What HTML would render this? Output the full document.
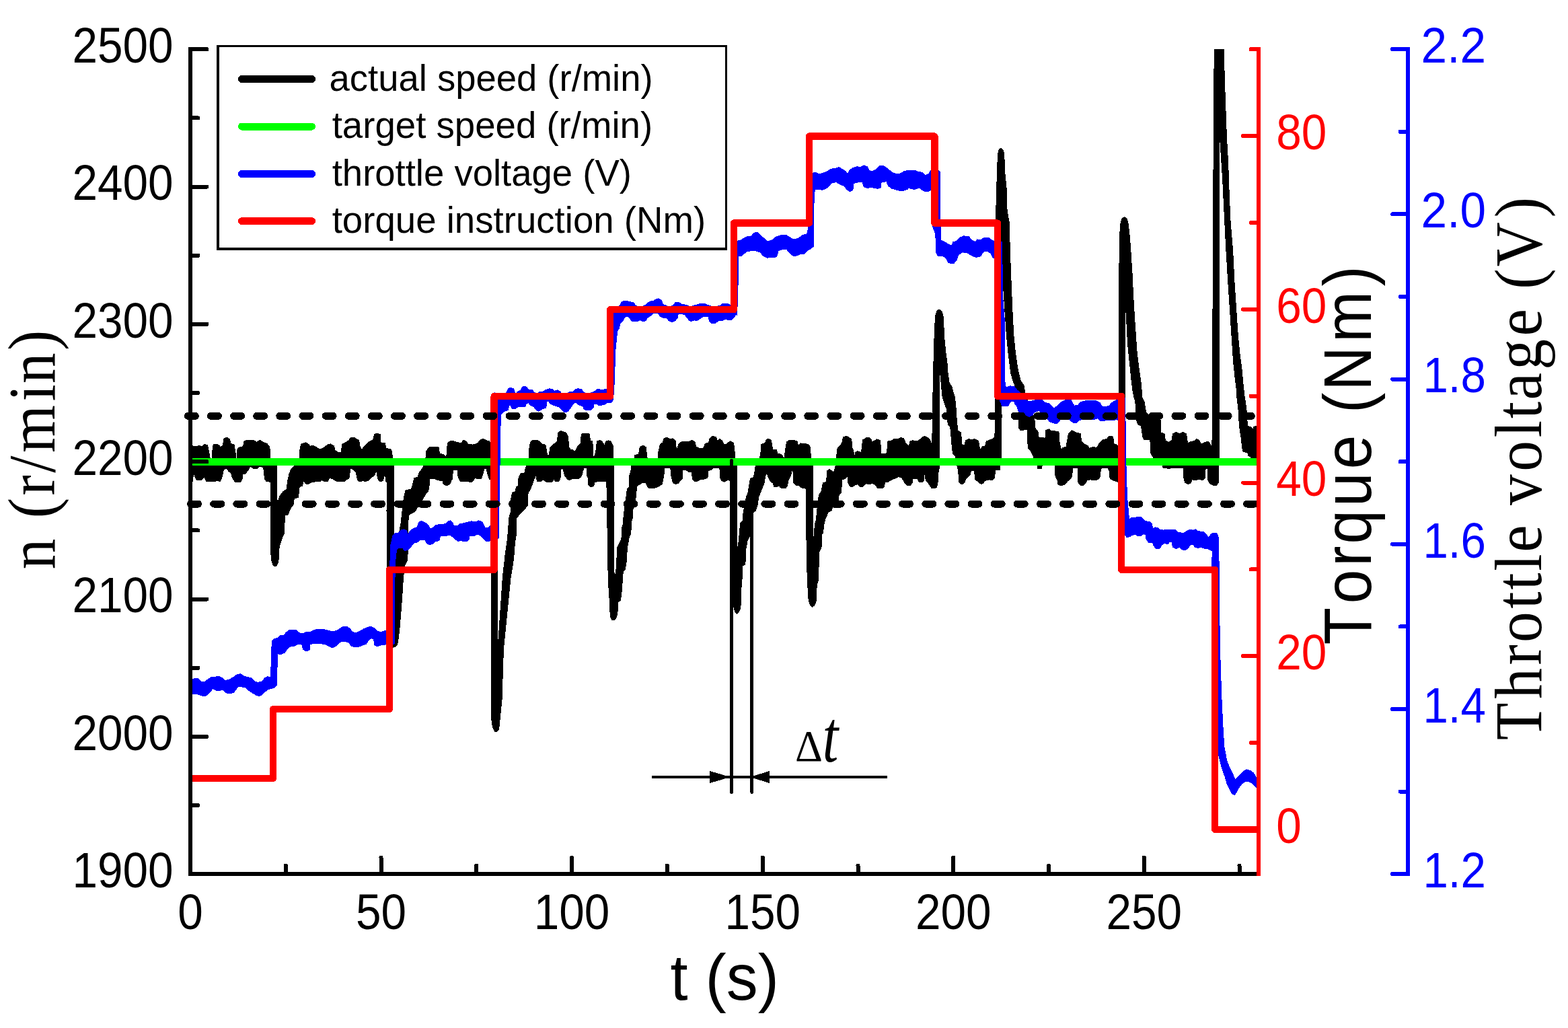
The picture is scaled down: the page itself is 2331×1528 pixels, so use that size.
<!DOCTYPE html>
<html lang="en">
<head>
<meta charset="utf-8">
<title>Engine speed control under torque steps</title>
<style>
html,body{margin:0;padding:0;background:#fff;}
body{width:2331px;height:1528px;overflow:hidden;}
svg{display:block;}
text{font-kerning:none;fill:#000;}
.k{font-family:"Liberation Sans",Arial,sans-serif;}
.s{font-family:"Liberation Serif","Times New Roman",serif;}
.i{font-style:italic;}
.r{fill:#f00;}
.b{fill:#00f;}
</style>
</head>
<body>
<svg width="2331" height="1528" viewBox="0 0 2331 1528" shape-rendering="crispEdges">
<rect width="2331" height="1528" fill="#fff"/>
<defs><clipPath id="plot"><rect x="283" y="73" width="1588" height="1226"/></clipPath></defs>
<g clip-path="url(#plot)" fill="none" stroke-linejoin="round" stroke-linecap="round">
<path id="speed" d="M280 686.3L286 662.9L292.3 663.8L295.7 662.1L300 663.8L304.3 660.4L308.6 662.1L311.2 675.8L312.9 686.1L315.5 686.1L316.3 663.8L318 660.7L324.9 661.2L327.5 664.6L331.8 662.1L332.6 652.6L336.9 650.1L341.2 652.6L342.9 659.5L348.1 661.2L350.3 675.8L351 686.1L352.4 686.1L353.2 666.4L357.5 664.6L361.8 663.8L362.7 656.1L366.1 654.4L376.4 654.4L381.5 657.3L386.7 654.4L391.8 657.8L397 659.5L400.8 664.6L401.8 686.1L411.8 686.3L411.8 742L412.4 747.9L415.9 737.6L421 730.7L426.2 727.3L427.9 713.6L430.4 703.3L433 697.3L437.3 693L441.6 686.1L445 686.1L445.9 668.9L447.6 660.4L454.5 657.8L458.8 660.4L460.5 663.8L464.8 662.1L469.9 664.6L475.1 668.1L477.6 667.2L482.8 664.6L487.1 661.2L491.4 660L496.5 662.9L498.2 669.8L503.4 672.7L507.7 672.4L508.5 660.4L513.7 657.8L518.8 654.4L521.4 650.9L525.7 650.1L533.4 654.4L535.1 663.8L537.7 668.9L541.1 663.8L544.6 660.4L549.7 656.1L554.9 653.5L556.6 645.8L560 644.1L565.2 645.8L566 658.6L572 658.6L574.1 666.4L580.6 668.1L582.7 670.7L583.3 686.1L584.9 686.3L584.9 842L586.5 835L590 810L596 778.8L600.3 741L602.9 729L611.5 727.3L613.2 721.3L615.8 711L620.9 709.3L623.5 702.4L628.6 695.5L632.1 686.1L632.9 686.1L633.4 670.7L638.9 664.6L651.8 664.6L653.5 674.1L659.5 675.8L663.8 680.1L665.5 658.6L670 655.2L675.1 656.1L680.3 657.8L685.4 658.6L688.9 654.9L692.3 655.2L695.7 660L702.6 661.2L706.9 660.4L711.2 657.8L714.6 653.5L718.9 652.6L723.2 654.9L727.5 656.1L729.2 658.6L734.4 662.1L734.9 686.1L739.8 686.3L739.8 950L741 955L742.3 934.4L744.9 895.8L747.5 857.2L750.5 831.5L751.5 821.7L754.1 804.5L755.8 787.3L756.7 770.2L759.2 761.6L759.2 744.4L761.8 732.4L766.1 730.7L767.8 723.8L770.4 722.1L771.2 710.1L773.8 704.1L779.8 703.3L781.5 695.5L785 686.1L786.3 686.1L786.7 668.9L788.4 658.6L790.1 655.2L798.7 654.4L802.1 656.1L805.6 660.4L810.7 661.2L812.4 668.9L813.3 676.7L816.7 676.7L817.6 665.5L820.2 662.9L824.4 659.5L828.7 655.2L829.6 643.2L833.9 640.6L841.6 643.2L844.2 648.3L845.9 665.5L848.5 668.6L851.9 668.9L854.5 671.5L857.9 665.5L858.8 663.4L863.1 659.5L864.4 645.8L867.3 644.1L875.9 644.9L877.6 655.2L880.7 656.1L881.9 678.4L884.5 677.5L886.2 668.1L887.6 656.1L891.4 654.4L894.8 656.1L897.4 660.4L899.1 662.1L900.8 656.1L904.2 654.9L907.7 656.1L911.1 662.1L912 686.1L912.3 686.3L912.3 850L915 854.6L916.3 844.3L918 813.1L924 801.1L924.8 783.9L926.5 778.8L927.4 765L930.8 741L932.5 727.3L935.1 723.8L936 706.7L938.6 697.3L939.4 686.1L942.8 686.1L943.7 676.7L949.7 674.9L951.4 664.6L955.7 662.1L960 664.6L961.7 679.2L963.4 686.1L978 686.1L978.9 672.4L981.5 660.4L985.7 657.8L986.6 652.6L990.9 650.4L996 652.6L999.5 652.1L1003.8 654.4L1005.5 669.8L1007.2 665.5L1008.9 660.4L1014.1 656.1L1023.5 656.6L1028.6 654.4L1032.9 656.9L1034.7 663.8L1040.7 666.9L1045.8 666.4L1048.4 659.5L1053.5 658.3L1055.2 651.8L1059.5 648.3L1064.7 650.1L1065.5 654.4L1070 653.8L1070 652.6L1073.4 654.9L1076 660.4L1078.6 661.2L1082.9 657.8L1085.4 656.1L1089.7 657.8L1091.5 663.8L1092.3 678.4L1094 686.1L1095.8 686.3L1095.8 812L1097.3 815L1097.5 813.1L1098.3 804.5L1100.9 777L1104.3 773.6L1105.2 761.6L1109.5 739.3L1112 732.4L1113.8 722.1L1115.5 711.8L1120.6 709.3L1122.3 699.8L1124.1 686.1L1128.3 686.1L1130.9 674.9L1132.1 660.4L1137.8 658.6L1138.6 654.4L1142.1 652.1L1146.4 654.4L1147.2 660L1148.9 668.9L1154.1 668.9L1155.8 674.1L1161.8 675.5L1164 679.2L1166.1 680.9L1167.5 670.7L1169.5 656.9L1173 654.9L1181.5 654.9L1185.3 656.1L1186.3 662.9L1190.1 659L1196.1 659.5L1200.4 660.4L1203.8 662.9L1205.2 677.5L1206.9 686.1L1208.2 686.3L1208.2 798L1209.5 802L1209.9 799.4L1211.6 778.8L1213.3 773.6L1216.7 741L1217.6 735.9L1221 730.7L1223.6 717.8L1228.7 716.1L1229.9 699.8L1233 697.3L1239 702.4L1241.6 696.4L1243.3 686.1L1243.7 680.1L1244.7 667.2L1248.5 662.9L1251.9 658.6L1253.6 650.1L1257.9 648.3L1262.2 650.4L1265.6 652.6L1267 667.2L1268.7 668.9L1269.4 679.2L1270.8 679.2L1271.6 672.4L1275.1 670.7L1279.4 672.4L1280.7 674.9L1281.4 663.8L1282.8 653.8L1287.9 650.9L1291.4 650.4L1294.8 652.6L1295.7 656.9L1299.9 655.2L1303.4 653.1L1308.5 654.4L1309.7 674.9L1317.1 674.9L1318.8 672.4L1319.7 656.1L1325.7 654.9L1329.1 652.6L1335.1 653.1L1339.4 650.4L1343.7 652.1L1346.3 658.6L1351.4 663.8L1352.8 656.1L1356.6 654.9L1361.7 656.1L1365.2 655.2L1370.3 651.4L1373.7 648.3L1378.9 650.4L1382.7 653.5L1384.4 666.9L1385.7 650.1L1386.4 640L1387.1 583L1388.4 524.6L1389.7 486L1391 468L1393 462L1396.1 460.3L1399.5 462.5L1401.8 468L1402.6 480.9L1403.8 504L1405.9 524.6L1407.7 537.5L1409 555.5L1411 568.4L1415.4 576.1L1416.7 583L1419.2 590L1420.9 605.4L1422.1 624.3L1423.8 639.8L1428.6 643.2L1429.5 660.4L1433.8 662.1L1435.5 655.2L1439.8 652.6L1444.1 653.8L1449.2 652.6L1454.4 655.2L1456.1 665.5L1457.8 668.9L1460.4 663.8L1464.7 662.9L1466.4 656.1L1470 655.2L1470 654.4L1475.1 652.6L1478.6 650.1L1479.5 640L1480.3 400L1481.1 305.8L1482.4 259.5L1483.6 228.6L1485.5 222L1488.3 220.4L1491 223L1492.7 228.6L1493.4 254.4L1496 280.1L1497 313.6L1500.4 331.6L1501.1 370.2L1502.9 416.5L1504.7 460.3L1506.8 498.9L1509.4 524.6L1513.2 550.4L1517.1 565.8L1522.3 573.5L1523.5 585L1530 602L1537.8 622.6L1538.6 636.3L1542.9 641.5L1543.8 650L1554 651.4L1555 639.8L1559.2 638L1562.7 640.6L1568.7 641.1L1573.8 641.5L1575 658.6L1578.1 670.7L1579.8 665.5L1585 664.6L1586.7 655.2L1588.4 644.9L1593.6 640.1L1600.4 643.2L1606.4 644.9L1607.3 655.2L1612.4 660.4L1617.6 662.9L1618.9 666.4L1624.4 664.6L1630.4 665.5L1634.7 658.6L1639.9 653.8L1645.9 652.6L1648.5 648.3L1654.5 649.2L1656.2 660.4L1660.5 661.2L1662.2 663.8L1663 640L1663.4 583L1664.2 370L1665.5 334L1668 325L1671.5 322.6L1674.8 325L1676.7 330.3L1679.3 352.2L1680.6 370.2L1683.1 408.8L1684.4 437.1L1686.5 473.1L1688.3 498.9L1690.1 524.6L1693.4 550.4L1696 568.4L1697.3 583L1697.4 590L1700.8 596.9L1703.4 612.3L1712 621L1725.7 625L1725.7 643.2L1730.8 644.9L1732.5 655.2L1737.7 657.3L1742 654.4L1743.7 644.9L1748.9 642.3L1753.1 645.3L1758.3 642.3L1763.4 644.6L1765.5 658.6L1769.4 656.9L1775.4 655.6L1778.9 652.6L1783.2 655.2L1784.9 660.4L1790.9 657.8L1795.2 656.1L1798.6 658.6L1799.5 662.9L1802 662.9L1802.3 640L1802.6 583L1803.8 300L1805.4 60L1818.5 60L1821 140L1823.4 205.4L1825.5 241.5L1827.3 293L1829.1 331.6L1832.4 370.2L1835 421.7L1837.6 460.3L1840.2 498.9L1842.7 524.6L1846.1 550.4L1847.9 571L1849.2 583L1850.1 590L1852.7 607.2L1854.4 632.9L1860.4 635.5L1863 638L1863.8 634.3L1868 633.8L1876 634L1876 686.3L1863 686.1L1859.5 679.2L1856.1 677.5L1855.2 673.2L1847.5 670.7L1844.9 648.3L1842.4 632.9L1841.5 612.3L1838.9 590L1838.9 583L1836.3 563.2L1833.7 537.5L1831.1 498.9L1828.6 460.3L1826 421.7L1822.9 370.2L1820.3 318.7L1817.8 267.2L1815.2 228.6L1813.7 205.4L1812.7 210L1812.6 686.3L1811.5 686.1L1811.1 717L1808.9 721.3L1803.8 721.3L1798.6 718.4L1796 713.6L1795.2 696.4L1791.8 697.3L1790.9 711L1787.5 713.6L1782.3 712.2L1777.2 713.6L1772 712.7L1770.3 717.8L1766 719.6L1761.7 717L1760 710.1L1759.1 695L1757.4 695.5L1751.4 695L1742.8 695L1737.7 696.4L1729.1 695L1726.5 686.1L1718.8 686.1L1713.7 678.4L1711.1 674.1L1709.9 653.8L1700.8 653.5L1699.1 650.1L1696.5 632.9L1691.4 630.3L1689.6 624.3L1687.9 596.9L1685.9 590L1684.4 583L1681.9 563.2L1679.3 537.5L1676.7 511.7L1674.6 473.1L1673.6 457.7L1672.8 462L1672.7 686.3L1672.1 686.1L1667.3 716.1L1662.2 716.1L1658.8 715.3L1653.6 713.2L1650.2 711L1649.3 699.8L1646.7 695L1643.3 695.5L1637.3 695.5L1636.1 699.8L1634.7 710.1L1630.4 713.6L1625.3 713.6L1621 712.7L1615.9 713.6L1614.1 717.8L1609.9 721.3L1605.6 720.8L1603 717L1602.1 695.5L1594.4 695.5L1593.6 708.4L1590.1 712.7L1586.7 715.3L1583.3 719.6L1577.3 721.8L1573 719.6L1572.1 713.6L1569.2 708.4L1567.8 686.1L1550.7 686.1L1548.1 696.7L1542.9 696.4L1541.2 686.1L1538 686.3L1536.9 679.2L1532.6 670.7L1528.3 665.5L1527.5 638L1517.2 639.8L1515 636.3L1515 590L1513.2 583L1506.8 568.4L1503 555.5L1499.1 524.6L1496.5 498.9L1493.9 460.3L1491.4 421.7L1488.8 383L1488.3 383L1488.2 686.3L1487.2 686.1L1486.3 698.1L1479.4 698.1L1478.6 710.1L1475.1 713.6L1470 712.7L1470 713.2L1463.8 714.4L1462.1 717.8L1458.7 719.6L1454.4 716.1L1450.1 712.7L1448.4 699L1443.2 699.8L1442.4 705L1438.9 708.4L1435.5 711.8L1434.7 715.3L1432.1 719L1428.6 719.6L1425.6 716.1L1424.9 699.8L1423.5 694.7L1420.9 686.1L1420.1 677.5L1416.6 674.1L1414.9 658.6L1412.9 635L1409.4 631.2L1407.2 607.2L1403.8 598.6L1401.2 590L1399.5 572L1397.4 550.4L1396.2 556L1396.2 686.3L1396 696.4L1394.8 702.4L1394 717L1392.6 723.8L1389.2 725.9L1384.9 725.2L1381.5 720.4L1378.9 716.1L1376.3 714.4L1375.4 699.8L1374.1 699L1373.7 713.6L1372 716.1L1366 716.1L1364.3 712.2L1361.7 711L1356.9 711.5L1356.2 717.8L1353.1 721.3L1349.7 721.8L1345.4 718.4L1342.8 713.2L1339.4 709.3L1335.1 708.7L1330.8 711L1325.7 712.7L1320.5 716.1L1315.4 717L1314.5 723L1312 725.6L1304.2 725.2L1301.7 720.8L1297.4 718.4L1291.4 719.6L1287.9 718.4L1282.8 723L1278.5 723.5L1275.1 719.6L1271.6 720.4L1267.3 723.5L1263.9 723L1260.5 717L1259.6 697.3L1258.8 708.4L1256.2 711.5L1251.9 712.7L1250.2 732.4L1246.7 736.7L1245.9 744.4L1237.3 753.9L1236.1 759L1231.3 760.7L1229.6 765L1227 770.2L1224.4 780.5L1223.6 791.6L1221.9 794.2L1221 813.1L1217.9 819.9L1216.7 847.4L1216.6 861.9L1214.1 868.8L1213.2 892.8L1211.5 897.9L1210 900.5L1207.2 902.2L1203.8 897.9L1202 889.4L1200.8 868.8L1199.5 834.4L1198.6 760L1198.7 729L1197.8 725.6L1193.6 725.9L1190.1 723.8L1188.4 721.3L1183.3 721.3L1179.8 717L1179 699.8L1177.3 696.4L1176.4 704.1L1174.7 708.4L1172.1 712.7L1170.4 722.1L1167.8 725.6L1163.5 725.9L1160.1 724.7L1158.4 721.3L1154.9 723.8L1150.7 723L1148.9 717.8L1145.5 715.3L1142.1 709.3L1140.4 703.3L1137.8 706.7L1136.1 717L1134.4 722.1L1130.9 730.7L1128 737.6L1125.8 751.3L1123.2 759L1119.8 761.6L1115.5 780.5L1115 795.9L1111.2 802.8L1108.6 816.5L1107.8 838.8L1103.7 841.3L1103 860.2L1101.7 875.6L1100.8 903L1098.5 909.5L1095.5 912L1092.5 909L1090.5 900L1089 885L1087.3 850L1085.8 760L1085.1 715.3L1083.7 712.7L1081.2 713.6L1076.9 716.1L1072.6 714.4L1070.9 710.1L1070 695.5L1070 695.5L1060.4 695.5L1057.8 698.1L1052.7 699.8L1051.8 710.1L1047.5 711.8L1041.5 712.7L1037.2 714.9L1032.9 715.6L1029.5 712.7L1028.6 701.2L1024.4 701.5L1020.9 699L1014.9 698.1L1014.1 711.8L1011.5 714.4L1008.1 718.4L1003.8 719.6L1000.3 717L998.1 708.4L996.9 695.5L987.8 695.5L986.6 708.4L984 719.6L978.9 723L974.6 724.7L968.6 725.9L963.4 724.7L960 717.8L955.7 717L951.4 719.6L947.1 722.1L945.4 733.3L944.6 743.6L941.1 753L940.3 770.2L938.6 775.3L937.7 792.5L935.1 799.4L932.5 813.1L930.8 837.1L929.2 846.5L926.3 849.9L925.3 858.5L924.6 873.9L922.3 892.8L918.9 894.5L918 908.2L916.7 916.8L914.5 920.5L912 922L909.5 921L907.4 916.8L906 886L904.3 862L903.5 800L902.5 760L902 713.6L899.9 715.6L893.1 714.9L891.4 715.6L884.2 716.1L882.8 721.8L878.5 723.8L875.1 721.3L874.2 710.1L872.8 706.7L872.5 695.5L867.3 695.5L866.5 701.5L863.9 708.4L860.5 711.5L850.2 711.5L846.7 713.6L843.3 711.8L839.9 707.5L838.2 701.5L836.5 695.5L833.9 697.3L833 710.1L831.3 714.9L825.3 715.3L823.6 712.2L820.2 716.6L812.4 716.1L807.3 712.7L803.8 715.3L798.7 715.3L797.3 710.1L796.1 696.4L795.3 710.1L793.6 712.7L791 720.4L788.4 727.3L785 732.4L784.1 751.3L780.7 755.6L777.3 759L773 763.3L767.8 770.2L767 795.9L765.2 807.9L763.5 830.2L760.9 847.4L759.1 857.2L756.5 883L753.9 908.7L751.4 934.4L748.8 960.2L747.5 986L746.2 1037.4L743.6 1063L741.5 1084L738.5 1087.6L735.5 1087L732.5 1081L731 1070L730.7 760L730.1 713.6L729.2 712.2L727.5 712.2L724.9 704.1L723.2 696.4L719.8 696.4L718 703.3L715.5 711L710.3 711.5L706 710.1L704.3 713.6L700.9 716.6L695.7 715.6L684.6 715.3L681.2 709.3L680.3 698.1L673.1 699L672.6 711.8L670 714.4L670 717L668.1 719.6L663.8 721.8L659.5 719.6L657.8 714.4L650.1 713.6L645.8 711L638.9 711.8L638.1 720.4L636.4 730.7L632.9 734.1L626.9 744.4L620.1 754.7L616.6 760.7L608.1 765L607.2 770.2L606 780L605.9 831.5L602 839.2L599.5 857.2L598.2 877.8L596.4 903.5L593.8 934.4L591.7 952L590.5 958L587.9 961L584.5 962.2L581 960.5L577 954L575.3 940L575.1 760L575.4 717L573.7 715.3L572.9 706.7L571.2 706.7L569.4 714.4L565.2 715.6L561.7 711.8L560 701.2L558.3 701.5L556.6 706.7L551.4 710.1L547.1 714.4L542.8 715.6L540.3 714.4L534.3 715.6L531.7 713.6L529.1 701.5L524 697.3L520.9 696.4L518.8 711L514.5 713.2L512 715.6L500.8 715.6L494.8 711.8L489.6 710.1L487.1 715.3L482.8 715.6L478.5 713.6L475.9 715.6L463.9 716.1L457.9 719.6L453.6 718.7L451.9 712.7L449.3 722.1L445 723.8L443.3 739.3L437.3 741L435.6 751.3L432.2 754.7L427.9 765L423.6 765L421.9 794.2L419.3 799.4L415 813.1L414.1 831.5L412.5 838.5L409.8 841.8L406.5 840.5L404 834L402.6 820L402.3 760L402.1 716.1L396.1 715.6L393.6 711.8L391.8 694.7L385.8 693L381.5 696.7L377.3 696.7L372.1 693L369.5 698.1L364.4 704.1L360.9 705L360.1 711.8L357.5 716.6L349.8 716.6L345.5 710.1L343.8 703.3L340.4 700.7L336.9 696.7L332.6 697.3L330.1 708.4L327.5 715.3L321.5 714.4L318.9 715.6L306.9 715.3L303.5 708.4L299.2 713.6L292.3 713.6L289.7 708.4L288 702.4L286 715.3Z" fill="#000" stroke="#000" stroke-width="1.2"/>
<path id="target" d="M283 686.3H1871" stroke="#0f0" stroke-width="11" stroke-linecap="butt"/>
<path id="throttle" d="M281 1010L286 1010.4L289.3 1008.6L294.5 1009.1L298.3 1012.9L303.5 1014.2L308.6 1010.4L313.8 1007L318.9 1006.5L325.3 1005.2L330.5 1007.8L334.4 1011.7L340.8 1010.4L347.2 1006.5L352.4 1002.7L357.5 1001.9L362.7 1005.2L367.8 1006.5L373 1007.8L378.1 1012.9L383.3 1014.7L389.7 1012.9L393.6 1007.8L397.4 1006L402.6 1006.5L403.3 985.9L404.4 952.5L407.7 949.4L412.9 948.6L416.7 944.7L421.9 944.2L425.7 940.1L429.6 936.5L434.7 936.2L439.9 936.5L445 940.9L450.2 942.2L455.3 939.6L461.8 939.1L466.9 936.5L473.3 935.2L481.1 935.7L488.8 937.5L493.9 939.1L500.4 937.5L505.5 934.4L509.4 931.9L515.8 931.4L520.2 934.4L523.5 939.6L528.7 940.9L535.1 938.3L540.3 935.2L546.7 932.4L551.9 931.4L557 934.4L560.9 938.3L566 939.6L571.2 938.3L575 936.5L579 930L579.5 850L581 810L584 795.9L587.5 792.5L592.6 792.1L596 788.2L600.3 787L604.6 789.1L606.3 794.2L611.5 787.3L614.9 785.6L620.1 783.9L622.6 776.2L626.9 774.5L632.1 777L637.2 781.3L638.9 785.6L644.1 784.8L647.5 780.5L656.1 779.6L663 778.8L666.4 774.5L670 774L670 775.3L672.6 776.2L674.3 781.3L680.3 782.2L683.7 778.8L688.9 777.9L695.7 776.2L700 775L704.3 775.3L706.9 776.2L711.2 774L714.6 774.5L717.2 777L719.8 782.2L721.5 784.8L725.8 784.8L729.2 781.3L733 775L733.5 600L735 584L751.5 586.5L753.2 583L755.8 577.5L759.2 576.5L763.5 577.9L765.2 583L766.9 585.6L768.6 583L773.8 580.4L776.4 575.3L779.8 574.1L783.2 575.8L785.8 579.2L790.9 579.6L794 583L797.8 585.6L801.2 583L807.3 582.2L811.5 579.6L816.7 577.9L821 578.7L824.4 581.3L828.7 579.9L832.1 581.6L833.8 583.9L839.9 586.1L845.9 583L851.9 582.2L855.3 578.7L859.6 577.9L864.7 578.7L867.3 583L874.2 586.1L881 583L886.2 580.4L888.8 578.2L893.9 579.6L900.8 578.7L902.5 579.6L906 575L906.5 470L908 456L917.9 456.9L921.4 454.3L924.8 448.3L929.9 447.1L935.1 448.3L942 450L945 454.3L951.4 456.9L958.3 454.3L961.7 451.7L966 448.3L971.1 447.5L974.6 445.4L978.9 444L983.1 446.1L985.7 452.6L990 454.3L995.2 456.4L1001.2 453.5L1003.7 450L1008.9 449.2L1014 452.6L1020.9 453.5L1026 456.4L1031.2 454.3L1034.6 453.5L1039.8 451.7L1046.6 451.2L1051.8 453.5L1060.4 456.4L1071.5 454.3L1074.1 451.7L1079.2 451.2L1084.4 452.6L1086.1 453.5L1089 448L1089.5 370L1091 357L1095.2 358.6L1101.7 356.8L1109.4 352.2L1117.1 350.9L1121 346.5L1126.1 345.2L1131.3 350.9L1136.4 354.7L1140.3 358.6L1146.7 357.8L1153.1 352.7L1159.6 350.1L1168.6 349.6L1173.7 352.7L1178.9 356L1186.6 354.7L1193 349.6L1199.5 348.3L1201.5 340L1202 270L1204 258L1207.2 257.4L1212.3 256.4L1217.5 259L1223.9 257.4L1230.4 254.4L1235.5 251.3L1241.9 250.5L1247.1 248.7L1252.2 251.8L1257.4 254.9L1260 259.5L1262.5 253.8L1267.7 249.7L1274.1 247.9L1279.3 248.7L1284.4 246.1L1289.6 247.9L1292.1 253.8L1297.3 254.9L1302.4 251.8L1307.6 247.1L1312.7 246.1L1317.9 249.7L1323 253.8L1328.2 257.4L1333.3 259L1338.5 258.2L1343.6 254.9L1351.3 253.1L1359.1 253.1L1365.5 255.6L1370.6 256.4L1375.8 260.8L1380.9 258.2L1384.8 251.8L1392.5 250L1397.3 256L1397.8 330L1398.7 357.3L1403.8 359.4L1410.3 363.7L1415.4 365L1416.7 359.9L1421.9 358.6L1427 353.4L1432.2 350.9L1439.9 351.6L1445 357.3L1450.2 359.9L1452.8 356L1457.9 356.8L1463.1 353.4L1469.5 353.4L1474.6 357.3L1478.5 358.6L1489.5 360L1490.5 440L1493.5 480L1493.5 565.8L1495.2 576.1L1501.2 574L1508 574.4L1511.5 579.5L1516.6 583.8L1518.3 589.8L1528.6 596.7L1533.8 596.3L1542.4 594.1L1549.2 595L1553.5 598.4L1559.5 600.1L1563 603.6L1567.3 607L1571.5 603.6L1576.7 598.4L1583.6 594.6L1592.1 594.1L1594.7 600.1L1597.3 603.2L1602.4 602.7L1605.9 598.4L1611 596.3L1619.6 595.3L1628.2 595.3L1635 598.4L1637.6 603.6L1641.9 604.9L1648.8 603.6L1652.2 599.3L1657.3 595.8L1661.6 594.1L1672.5 592L1673.3 658.6L1674.2 710.1L1675.9 744.4L1677.6 761.6L1678.5 773.6L1681.9 769.3L1688.8 769.3L1691.4 768.1L1696.5 768.5L1699.9 771.9L1702.5 775L1709.4 775.3L1712 778.8L1713.7 785.6L1717.1 783.9L1721.4 784.8L1724 787.3L1729.1 788.2L1736 787.3L1742.8 787.7L1747.1 787.3L1751.4 791.6L1760 792.5L1765.2 789.1L1768.6 787.3L1773.7 788.2L1777.2 787L1780.6 789.9L1789.2 790.4L1794.3 795.9L1796.9 799.4L1800.3 794.2L1803.8 792.5L1808.9 792.8L1811.5 799.4L1812 841.8L1812.5 908.7L1814 985.9L1815.8 1037.4L1817.6 1076L1819.7 1109.5L1823.5 1130L1827.4 1140.4L1832.5 1150.6L1836 1159L1839.5 1156L1843.5 1151.5L1848.5 1146.5L1853.5 1144L1858.5 1145.5L1863.5 1149L1870 1160L1876 1163L1876 1176L1870 1173L1861 1164L1856 1161.5L1851 1161.5L1846 1165L1841 1171.5L1838 1178L1835 1181.5L1832 1180L1828.5 1174L1824.5 1166L1821 1154L1817 1143L1813.5 1129L1811.5 1122L1802 1120L1802 830L1802.9 817.9L1800.3 817.9L1796 815.7L1789.2 814.8L1785.7 813.1L1780.6 814.5L1776.3 813.1L1774.6 809.3L1769.4 809.6L1766 814.8L1761.7 817.9L1756.6 816.5L1753.1 813.1L1748 815.7L1743.7 813.1L1742 805.9L1738.6 805.4L1736 808.8L1730.8 807.1L1726.5 810.5L1724 815.1L1718.8 815.7L1715.4 811.4L1713.7 806.6L1707.7 806.2L1704.2 801.1L1703.4 795.1L1700.8 793.3L1696.5 795.9L1691.4 796.8L1687.9 794.2L1683.6 795.1L1679.4 797.6L1675.1 798.5L1672.5 795.1L1663.5 780L1663 628L1661.6 623.3L1653.9 624.5L1647 624.1L1640.2 625.5L1635 625L1631.6 621.6L1624.7 623.8L1614.4 623.3L1609.3 623.8L1604.1 624.1L1600.7 627.9L1596.4 628.4L1592.1 625.9L1587.8 620.7L1583.6 617.3L1578.4 620.7L1574.6 625.9L1571.5 629.3L1566.4 628.9L1560.4 626.7L1552.7 617.3L1547.5 613L1544.1 610.4L1537.2 613L1534.6 617.3L1530.4 619.3L1526.1 617.3L1521.8 613.8L1516.6 613L1514.1 610.4L1511.5 603.6L1508.9 600.1L1507.2 596.3L1502.9 596.7L1500.3 600.1L1498.6 603.9L1490 603.6L1484.5 590L1484 390L1478.5 384.3L1475.9 382.5L1473.3 376.6L1468.2 373.3L1461.8 374L1457.9 380.5L1451.5 382.5L1445 380L1437.3 375.3L1430.9 374.8L1424.4 379.2L1421.9 386.9L1418 391.3L1410.3 390.8L1407.7 385.6L1403.8 381L1394.8 380.5L1391.5 375.3L1391 348L1386 335L1386 285L1384.3 281.4L1380.9 284L1374.5 284L1369.4 281.4L1366.8 278.8L1359.1 281.4L1353.9 280.1L1351.3 278.8L1348.8 281.4L1341 284L1333.3 282.1L1325.6 280.1L1320.5 276.2L1317.9 269.8L1310.2 270.3L1308.9 278.8L1305 280.1L1299.9 279.6L1294.7 278L1289.6 279.6L1284.4 277.5L1281.8 269.8L1274.1 271.1L1269 272.4L1267.7 282.7L1263.8 284.7L1258.7 281.4L1254.8 276.2L1248.4 273.7L1243.2 270.3L1235.5 272.4L1230.4 278.8L1222.6 282.1L1216.2 281.4L1209.8 281.4L1211.5 281.5L1210 290L1209.5 366L1204.6 370.2L1200.8 371.5L1195.6 377.4L1189.2 377.9L1184 380L1178.9 380L1173.7 375.8L1169.9 370.7L1163.4 370.2L1157 372.8L1154.4 381.8L1146.7 382.5L1140.3 383.1L1135.1 380.5L1130 374.8L1123.5 372.8L1115.8 372.8L1109.4 374L1102.9 380L1097.8 380.5L1097 382L1097.5 400L1096.5 440L1095.5 468L1094.7 466.3L1091.2 471.5L1087 475.3L1081.8 475.3L1078.4 474.1L1075.8 475.8L1068.1 476.6L1063.8 480.1L1057.8 480.1L1054.4 477.5L1053.5 470.1L1044.9 470.6L1041.5 473.2L1036.3 476.3L1032 475.8L1027.8 477.5L1024.3 475.8L1020.9 471.5L1018.3 467.7L1012.3 466.3L1008 467.2L1007.2 472.3L1003.7 476.6L998.6 478.7L994.3 476.6L991.7 472.9L985.7 472.3L981.4 469.8L978 465.5L971.1 465.5L967.7 468.9L962.5 472.3L960 476.6L955.7 477.5L951.4 475.8L947.1 477.5L939.4 477.5L936.8 473.2L933.4 470.1L929.9 470.1L927.4 474.1L924.8 478.3L921.4 480.9L920.5 487.8L917.6 492.1L916.2 505.8L914.5 523L913.6 557.3L912.8 574.4L911.4 594.2L908.5 598.5L902.5 598.5L899.1 601L893.9 602.2L889.6 602.2L887 599.8L882.2 601L881.9 606.2L878.5 609.1L871.6 609.6L868.2 607.9L866.5 603.3L863 602.8L859.6 601L856.2 598.1L853.6 598.5L851 601.9L847.6 607L844.1 611.8L839 612.2L835.6 608.8L831.3 604.5L827 603.6L821.8 601.9L817.5 599.3L815.8 596.4L812.9 596.7L811.5 606.7L807.3 607L804.7 608.8L800.4 611.3L797 608.8L793.5 604.5L788.4 601.9L785.8 598.8L782.4 599.3L780.7 604.5L773.8 604.5L769.5 605L766.1 607.4L760.9 607L759.2 601.9L756.6 602.8L754.9 609.6L749.8 611.3L744.6 615.6L744.3 617L743.5 650L742.5 720L741 800L729.2 802.8L727.5 804.2L723.2 804.5L719.8 801.9L716.3 797.6L712.9 795.1L708.6 794.2L704.3 796.8L697.5 796.8L697.1 801.1L694 804.2L688.9 804.5L685.4 803.6L680.3 804.2L677.7 801.9L674.3 798.5L670 795.9L670 795.9L666.4 795.1L663 796.8L654.4 796.8L652.7 803.6L647.5 804.5L644.1 807.9L638.9 809.6L634.7 807.9L632.1 802.8L625.2 801.9L620.1 805.9L614.9 807.1L610.6 813.1L606.3 817.4L602 818.2L597.8 813.9L592.6 813.9L589.2 818.2L589.2 819L587.9 831.5L586.5 870L586 957L575 957.6L566 958.9L560.9 960.7L557 958.9L555.7 949.9L551.9 948.6L548 951.2L544.1 957.1L539 958.9L532.5 961.5L527.4 961.5L522.3 960.2L518.4 955L513.2 953L508.1 953L502.9 956.3L499.1 960.2L493.9 962.8L488.8 960.2L483.6 957.6L475.9 956.3L466.9 956.3L461 957.6L460 965.8L455.3 967.9L450.7 965.3L448.9 957.6L442.5 957.6L437.3 960.2L432.2 960.2L427 964.8L423.2 970L418 972.5L412.9 971.8L412.1 985.9L411.1 1018.1L407.7 1022L403.8 1023.2L398.7 1024.5L393.6 1028.4L388.4 1033.5L384.5 1034.8L379.4 1032.3L374.2 1029.2L369.1 1025.8L365.2 1022L358.8 1020.7L353.7 1020.7L351.1 1024.5L347.2 1029.2L342.1 1031L335.6 1029.7L331.8 1025L325.3 1026.6L320.2 1025.8L316.3 1023.2L312.5 1028.4L307.3 1033.5L302.2 1034.8L295.7 1032.3L291.9 1031L286 1031.7L281 1031Z" fill="#00f" stroke="#00f" stroke-width="1.2"/>
<path id="torque" d="M283 1157.1H405.9V1054.1H578.9V846.9H734.6V589.0H907.3V460.3H1090.8V331.6H1202.8V202.6H1389.4V331.6H1483.1V589.0H1667.3V846.9H1806.3V1232.9H1872" stroke="#f00" stroke-width="10.3" stroke-linejoin="round"/>
</g>
<g fill="none" stroke="#000" stroke-width="11" stroke-linecap="round" stroke-dasharray="11 23.13">
<path d="M279.3 618.3H1866"/>
<path d="M283.6 749H1866"/>
</g>
<g id="axes">
<line x1="283" y1="73.2" x2="307.5" y2="73.2" stroke="#000" stroke-width="6" stroke-linecap="round"/>
<line x1="283" y1="175.4" x2="294.5" y2="175.4" stroke="#000" stroke-width="6" stroke-linecap="round"/>
<line x1="283" y1="277.6" x2="307.5" y2="277.6" stroke="#000" stroke-width="6" stroke-linecap="round"/>
<line x1="283" y1="379.7" x2="294.5" y2="379.7" stroke="#000" stroke-width="6" stroke-linecap="round"/>
<line x1="283" y1="481.9" x2="307.5" y2="481.9" stroke="#000" stroke-width="6" stroke-linecap="round"/>
<line x1="283" y1="584.1" x2="294.5" y2="584.1" stroke="#000" stroke-width="6" stroke-linecap="round"/>
<line x1="283" y1="686.2" x2="307.5" y2="686.2" stroke="#000" stroke-width="6" stroke-linecap="round"/>
<line x1="283" y1="788.4" x2="294.5" y2="788.4" stroke="#000" stroke-width="6" stroke-linecap="round"/>
<line x1="283" y1="890.6" x2="307.5" y2="890.6" stroke="#000" stroke-width="6" stroke-linecap="round"/>
<line x1="283" y1="992.8" x2="294.5" y2="992.8" stroke="#000" stroke-width="6" stroke-linecap="round"/>
<line x1="283" y1="1095.0" x2="307.5" y2="1095.0" stroke="#000" stroke-width="6" stroke-linecap="round"/>
<line x1="283" y1="1197.1" x2="294.5" y2="1197.1" stroke="#000" stroke-width="6" stroke-linecap="round"/>
<line x1="283" y1="1299.3" x2="307.5" y2="1299.3" stroke="#000" stroke-width="6" stroke-linecap="round"/>
<line x1="283.0" y1="1299" x2="283.0" y2="1274.5" stroke="#000" stroke-width="6" stroke-linecap="round"/>
<line x1="424.8" y1="1299" x2="424.8" y2="1286.5" stroke="#000" stroke-width="6" stroke-linecap="round"/>
<line x1="566.5" y1="1299" x2="566.5" y2="1274.5" stroke="#000" stroke-width="6" stroke-linecap="round"/>
<line x1="708.3" y1="1299" x2="708.3" y2="1286.5" stroke="#000" stroke-width="6" stroke-linecap="round"/>
<line x1="850.1" y1="1299" x2="850.1" y2="1274.5" stroke="#000" stroke-width="6" stroke-linecap="round"/>
<line x1="991.9" y1="1299" x2="991.9" y2="1286.5" stroke="#000" stroke-width="6" stroke-linecap="round"/>
<line x1="1133.7" y1="1299" x2="1133.7" y2="1274.5" stroke="#000" stroke-width="6" stroke-linecap="round"/>
<line x1="1275.5" y1="1299" x2="1275.5" y2="1286.5" stroke="#000" stroke-width="6" stroke-linecap="round"/>
<line x1="1417.2" y1="1299" x2="1417.2" y2="1274.5" stroke="#000" stroke-width="6" stroke-linecap="round"/>
<line x1="1559.0" y1="1299" x2="1559.0" y2="1286.5" stroke="#000" stroke-width="6" stroke-linecap="round"/>
<line x1="1700.8" y1="1299" x2="1700.8" y2="1274.5" stroke="#000" stroke-width="6" stroke-linecap="round"/>
<line x1="1842.5" y1="1299" x2="1842.5" y2="1286.5" stroke="#000" stroke-width="6" stroke-linecap="round"/>
<line x1="1871" y1="1232.9" x2="1848" y2="1232.9" stroke="#f00" stroke-width="6" stroke-linecap="round"/>
<line x1="1871" y1="1104.1" x2="1859.5" y2="1104.1" stroke="#f00" stroke-width="6" stroke-linecap="round"/>
<line x1="1871" y1="975.2" x2="1848" y2="975.2" stroke="#f00" stroke-width="6" stroke-linecap="round"/>
<line x1="1871" y1="846.4" x2="1859.5" y2="846.4" stroke="#f00" stroke-width="6" stroke-linecap="round"/>
<line x1="1871" y1="717.5" x2="1848" y2="717.5" stroke="#f00" stroke-width="6" stroke-linecap="round"/>
<line x1="1871" y1="588.7" x2="1859.5" y2="588.7" stroke="#f00" stroke-width="6" stroke-linecap="round"/>
<line x1="1871" y1="459.8" x2="1848" y2="459.8" stroke="#f00" stroke-width="6" stroke-linecap="round"/>
<line x1="1871" y1="331.0" x2="1859.5" y2="331.0" stroke="#f00" stroke-width="6" stroke-linecap="round"/>
<line x1="1871" y1="202.1" x2="1848" y2="202.1" stroke="#f00" stroke-width="6" stroke-linecap="round"/>
<line x1="1871" y1="73.2" x2="1859.5" y2="73.2" stroke="#f00" stroke-width="6" stroke-linecap="round"/>
<line x1="2093" y1="73.2" x2="2070" y2="73.2" stroke="#00f" stroke-width="6" stroke-linecap="round"/>
<line x1="2093" y1="195.8" x2="2081.5" y2="195.8" stroke="#00f" stroke-width="6" stroke-linecap="round"/>
<line x1="2093" y1="318.4" x2="2070" y2="318.4" stroke="#00f" stroke-width="6" stroke-linecap="round"/>
<line x1="2093" y1="441.0" x2="2081.5" y2="441.0" stroke="#00f" stroke-width="6" stroke-linecap="round"/>
<line x1="2093" y1="563.6" x2="2070" y2="563.6" stroke="#00f" stroke-width="6" stroke-linecap="round"/>
<line x1="2093" y1="686.2" x2="2081.5" y2="686.2" stroke="#00f" stroke-width="6" stroke-linecap="round"/>
<line x1="2093" y1="808.8" x2="2070" y2="808.8" stroke="#00f" stroke-width="6" stroke-linecap="round"/>
<line x1="2093" y1="931.4" x2="2081.5" y2="931.4" stroke="#00f" stroke-width="6" stroke-linecap="round"/>
<line x1="2093" y1="1054.0" x2="2070" y2="1054.0" stroke="#00f" stroke-width="6" stroke-linecap="round"/>
<line x1="2093" y1="1176.6" x2="2081.5" y2="1176.6" stroke="#00f" stroke-width="6" stroke-linecap="round"/>
<line x1="2093" y1="1299.2" x2="2070" y2="1299.2" stroke="#00f" stroke-width="6" stroke-linecap="round"/>
<path d="M283 70.2V1299H1871" fill="none" stroke="#000" stroke-width="6" stroke-linejoin="miter"/>
<path d="M1871 70.2V1302" fill="none" stroke="#f00" stroke-width="6"/>
<path d="M2093 70.2V1302.3" fill="none" stroke="#00f" stroke-width="6"/>
</g>
<g class="tick">
<text class="k" transform="translate(257.6 93.0) scale(0.9050 1.0000)" font-size="74.6" text-anchor="end">2500</text>
<text class="k" transform="translate(257.6 297.4) scale(0.9050 1.0000)" font-size="74.6" text-anchor="end">2400</text>
<text class="k" transform="translate(257.6 501.7) scale(0.9050 1.0000)" font-size="74.6" text-anchor="end">2300</text>
<text class="k" transform="translate(257.6 706.0) scale(0.9050 1.0000)" font-size="74.6" text-anchor="end">2200</text>
<text class="k" transform="translate(257.6 910.4) scale(0.9050 1.0000)" font-size="74.6" text-anchor="end">2100</text>
<text class="k" transform="translate(257.6 1114.8) scale(0.9050 1.0000)" font-size="74.6" text-anchor="end">2000</text>
<text class="k" transform="translate(257.6 1319.1) scale(0.9050 1.0000)" font-size="74.6" text-anchor="end">1900</text>
<text class="k" transform="translate(283.0 1381.2) scale(0.9050 1.0000)" font-size="74.6" text-anchor="middle">0</text>
<text class="k" transform="translate(566.5 1381.2) scale(0.9050 1.0000)" font-size="74.6" text-anchor="middle">50</text>
<text class="k" transform="translate(850.1 1381.2) scale(0.9050 1.0000)" font-size="74.6" text-anchor="middle">100</text>
<text class="k" transform="translate(1133.7 1381.2) scale(0.9050 1.0000)" font-size="74.6" text-anchor="middle">150</text>
<text class="k" transform="translate(1417.2 1381.2) scale(0.9050 1.0000)" font-size="74.6" text-anchor="middle">200</text>
<text class="k" transform="translate(1700.8 1381.2) scale(0.9050 1.0000)" font-size="74.6" text-anchor="middle">250</text>
<text class="k r" transform="translate(1897.3 1252.7) scale(0.9050 1.0000)" font-size="74.6">0</text>
<text class="k r" transform="translate(1897.3 995.0) scale(0.9050 1.0000)" font-size="74.6">20</text>
<text class="k r" transform="translate(1897.3 737.3) scale(0.9050 1.0000)" font-size="74.6">40</text>
<text class="k r" transform="translate(1897.3 479.6) scale(0.9050 1.0000)" font-size="74.6">60</text>
<text class="k r" transform="translate(1897.3 221.9) scale(0.9050 1.0000)" font-size="74.6">80</text>
<text class="k b" transform="translate(2112.6 93.0) scale(0.9300 1.0000)" font-size="74.6">2.2</text>
<text class="k b" transform="translate(2112.6 338.2) scale(0.9300 1.0000)" font-size="74.6">2.0</text>
<text class="k b" transform="translate(2115.4 583.4) scale(0.9020 1.0000)" font-size="74.6">1.8</text>
<text class="k b" transform="translate(2115.4 828.6) scale(0.9020 1.0000)" font-size="74.6">1.6</text>
<text class="k b" transform="translate(2115.4 1073.8) scale(0.9020 1.0000)" font-size="74.6">1.4</text>
<text class="k b" transform="translate(2115.4 1319.0) scale(0.9020 1.0000)" font-size="74.6">1.2</text>
</g>
<g id="annot" stroke="#000" fill="none">
<line x1="1087.5" y1="684" x2="1087.5" y2="1178" stroke-width="4.5" stroke-linecap="round"/>
<line x1="1117.7" y1="712" x2="1117.7" y2="1178" stroke-width="4.5" stroke-linecap="round"/>
<line x1="969" y1="1155" x2="1319" y2="1155" stroke-width="3.2"/>
<path d="M1055.3 1146L1086 1155L1055.3 1164Z" fill="#000" stroke="none"/>
<path d="M1144 1146L1114.5 1155L1144 1164Z" fill="#000" stroke="none"/>
</g>
<g class="leg">
<rect x="323.8" y="68.4" width="755.7" height="301.5" fill="#fff" stroke="#000" stroke-width="3.6"/>
<g stroke-width="11" stroke-linecap="round">
<line x1="359.5" y1="117.5" x2="463.5" y2="117.5" stroke="#000"/>
<line x1="359.5" y1="188" x2="463.5" y2="188" stroke="#0f0"/>
<line x1="359.5" y1="258.6" x2="463.5" y2="258.6" stroke="#00f"/>
<line x1="359.5" y1="328.7" x2="463.5" y2="328.7" stroke="#f00"/>
</g>
<text class="k" transform="translate(489.5 134.6) scale(0.9708 1.0021)" font-size="56.1">actual speed (r/min)</text>
<text class="k" transform="translate(493.7 204.7) scale(0.9735 0.9982)" font-size="56.1">target speed (r/min)</text>
<text class="k" transform="translate(493.7 275.6) scale(0.9713 1.0021)" font-size="56.1">throttle voltage (V)</text>
<text class="k" transform="translate(493.7 345.6) scale(0.9737 0.9963)" font-size="56.1">torque instruction (Nm)</text>
</g>
<text class="k" transform="translate(996.4 1485.5) scale(0.9661 1.0000)" font-size="97.2">t (s)</text>
<text class="s" transform="translate(80.5 846.8) rotate(-90) scale(0.9200 1.0100)" font-size="99.1" x="0.5 55.4 83.3 119.8 156.5 188.9 272.1 300.9 354.1" y="0">n (r/min)</text>
<text class="k" transform="translate(2037.9 958.3) rotate(-90) scale(0.9250 1.0300)" font-size="98.1" x="0.0 66.0 126.0 162.0 222.0 282.1 342.2 372.2 408.1 486.1 576.1" y="0">Torque (Nm)</text>
<text class="s" transform="translate(2290.8 1100.3) rotate(-90) scale(0.9200 1.0100)" font-size="99.3" x="0.0 66.8 121.5 157.9 212.6 243.0 273.4 303.8 352.3 379.7 434.4 489.1 519.5 549.9 598.4 653.1 701.6 729.0 765.4 844.4" y="0">Throttle voltage (V)</text>
<text class="s" transform="translate(1182.1 1131.3) scale(0.9612 1.0000)" font-size="66.2">Δ</text>
<text class="s i" transform="translate(1222.8 1132.1) scale(0.7674 1.0000)" font-size="110.3">t</text>
</svg>
</body>
</html>
